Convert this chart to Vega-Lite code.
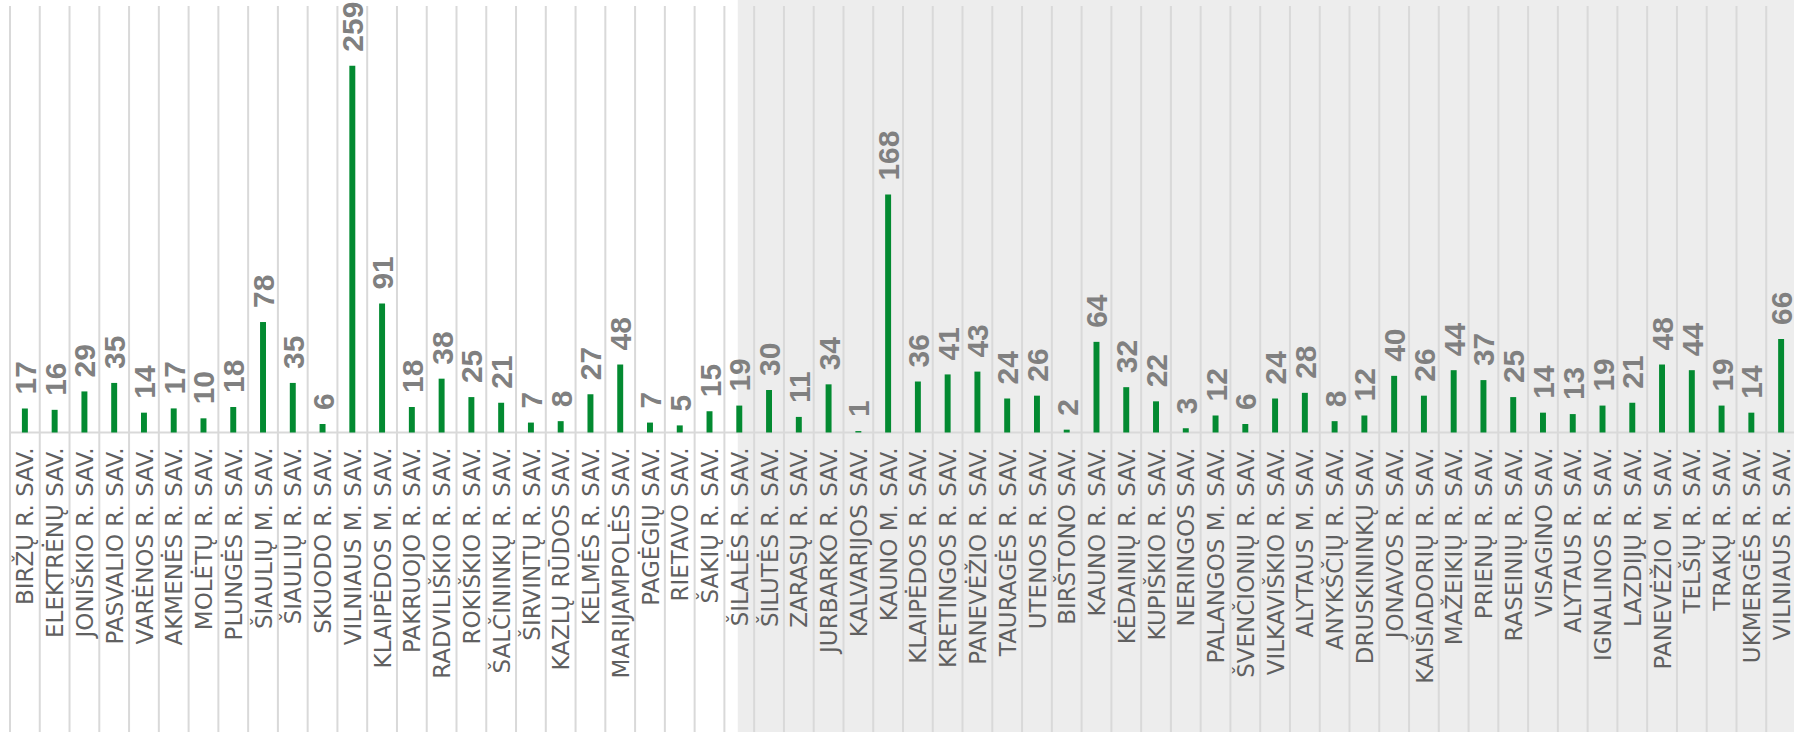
{
  "$schema": "https://vega.github.io/schema/vega-lite/v6.json",
  "width": 1786,
  "height": 732,
  "padding": {"left": 10, "right": 0, "top": 0, "bottom": 0},
  "autosize": {"type": "none"},
  "background": "#ffffff",
  "config": {"view": {"stroke": null}},
  "data": {"values": [
    {"sav": "BIRŽŲ R. SAV.", "v": 17},
    {"sav": "ELEKTRĖNŲ SAV.", "v": 16},
    {"sav": "JONIŠKIO R. SAV.", "v": 29},
    {"sav": "PASVALIO R. SAV.", "v": 35},
    {"sav": "VARĖNOS R. SAV.", "v": 14},
    {"sav": "AKMENĖS R. SAV.", "v": 17},
    {"sav": "MOLĖTŲ R. SAV.", "v": 10},
    {"sav": "PLUNGĖS R. SAV.", "v": 18},
    {"sav": "ŠIAULIŲ M. SAV.", "v": 78},
    {"sav": "ŠIAULIŲ R. SAV.", "v": 35},
    {"sav": "SKUODO R. SAV.", "v": 6},
    {"sav": "VILNIAUS M. SAV.", "v": 259},
    {"sav": "KLAIPĖDOS M. SAV.", "v": 91},
    {"sav": "PAKRUOJO R. SAV.", "v": 18},
    {"sav": "RADVILIŠKIO R. SAV.", "v": 38},
    {"sav": "ROKIŠKIO R. SAV.", "v": 25},
    {"sav": "ŠALČININKŲ R. SAV.", "v": 21},
    {"sav": "ŠIRVINTŲ R. SAV.", "v": 7},
    {"sav": "KAZLŲ RŪDOS SAV.", "v": 8},
    {"sav": "KELMĖS R. SAV.", "v": 27},
    {"sav": "MARIJAMPOLĖS SAV.", "v": 48},
    {"sav": "PAGĖGIŲ SAV.", "v": 7},
    {"sav": "RIETAVO SAV.", "v": 5},
    {"sav": "ŠAKIŲ R. SAV.", "v": 15},
    {"sav": "ŠILALĖS R. SAV.", "v": 19},
    {"sav": "ŠILUTĖS R. SAV.", "v": 30},
    {"sav": "ZARASŲ R. SAV.", "v": 11},
    {"sav": "JURBARKO R. SAV.", "v": 34},
    {"sav": "KALVARIJOS SAV.", "v": 1},
    {"sav": "KAUNO M. SAV.", "v": 168},
    {"sav": "KLAIPĖDOS R. SAV.", "v": 36},
    {"sav": "KRETINGOS R. SAV.", "v": 41},
    {"sav": "PANEVĖŽIO R. SAV.", "v": 43},
    {"sav": "TAURAGĖS R. SAV.", "v": 24},
    {"sav": "UTENOS R. SAV.", "v": 26},
    {"sav": "BIRŠTONO SAV.", "v": 2},
    {"sav": "KAUNO R. SAV.", "v": 64},
    {"sav": "KĖDAINIŲ R. SAV.", "v": 32},
    {"sav": "KUPIŠKIO R. SAV.", "v": 22},
    {"sav": "NERINGOS SAV.", "v": 3},
    {"sav": "PALANGOS M. SAV.", "v": 12},
    {"sav": "ŠVENČIONIŲ R. SAV.", "v": 6},
    {"sav": "VILKAVIŠKIO R. SAV.", "v": 24},
    {"sav": "ALYTAUS M. SAV.", "v": 28},
    {"sav": "ANYKŠČIŲ R. SAV.", "v": 8},
    {"sav": "DRUSKININKŲ SAV.", "v": 12},
    {"sav": "JONAVOS R. SAV.", "v": 40},
    {"sav": "KAIŠIADORIŲ R. SAV.", "v": 26},
    {"sav": "MAŽEIKIŲ R. SAV.", "v": 44},
    {"sav": "PRIENŲ R. SAV.", "v": 37},
    {"sav": "RASEINIŲ R. SAV.", "v": 25},
    {"sav": "VISAGINO SAV.", "v": 14},
    {"sav": "ALYTAUS R. SAV.", "v": 13},
    {"sav": "IGNALINOS R. SAV.", "v": 19},
    {"sav": "LAZDIJŲ R. SAV.", "v": 21},
    {"sav": "PANEVĖŽIO M. SAV.", "v": 48},
    {"sav": "TELŠIŲ R. SAV.", "v": 44},
    {"sav": "TRAKŲ R. SAV.", "v": 19},
    {"sav": "UKMERGĖS R. SAV.", "v": 14},
    {"sav": "VILNIAUS R. SAV.", "v": 66}
  ]},
  "encoding": {
    "x": {"field": "sav", "type": "nominal", "axis": null,
      "scale": {"paddingInner": 0, "paddingOuter": 0, "domain": ["BIRŽŲ R. SAV.","ELEKTRĖNŲ SAV.","JONIŠKIO R. SAV.","PASVALIO R. SAV.","VARĖNOS R. SAV.","AKMENĖS R. SAV.","MOLĖTŲ R. SAV.","PLUNGĖS R. SAV.","ŠIAULIŲ M. SAV.","ŠIAULIŲ R. SAV.","SKUODO R. SAV.","VILNIAUS M. SAV.","KLAIPĖDOS M. SAV.","PAKRUOJO R. SAV.","RADVILIŠKIO R. SAV.","ROKIŠKIO R. SAV.","ŠALČININKŲ R. SAV.","ŠIRVINTŲ R. SAV.","KAZLŲ RŪDOS SAV.","KELMĖS R. SAV.","MARIJAMPOLĖS SAV.","PAGĖGIŲ SAV.","RIETAVO SAV.","ŠAKIŲ R. SAV.","ŠILALĖS R. SAV.","ŠILUTĖS R. SAV.","ZARASŲ R. SAV.","JURBARKO R. SAV.","KALVARIJOS SAV.","KAUNO M. SAV.","KLAIPĖDOS R. SAV.","KRETINGOS R. SAV.","PANEVĖŽIO R. SAV.","TAURAGĖS R. SAV.","UTENOS R. SAV.","BIRŠTONO SAV.","KAUNO R. SAV.","KĖDAINIŲ R. SAV.","KUPIŠKIO R. SAV.","NERINGOS SAV.","PALANGOS M. SAV.","ŠVENČIONIŲ R. SAV.","VILKAVIŠKIO R. SAV.","ALYTAUS M. SAV.","ANYKŠČIŲ R. SAV.","DRUSKININKŲ SAV.","JONAVOS R. SAV.","KAIŠIADORIŲ R. SAV.","MAŽEIKIŲ R. SAV.","PRIENŲ R. SAV.","RASEINIŲ R. SAV.","VISAGINO SAV.","ALYTAUS R. SAV.","IGNALINOS R. SAV.","LAZDIJŲ R. SAV.","PANEVĖŽIO M. SAV.","TELŠIŲ R. SAV.","TRAKŲ R. SAV.","UKMERGĖS R. SAV.","VILNIAUS R. SAV."]}}
  },
  "layer": [
    {
      "data": {"values": [{}]},
      "mark": {"type": "rect", "color": "#ededed"},
      "encoding": {
        "x": {"datum": "ŠILALĖS R. SAV.", "type": "nominal", "bandPosition": 0.45, "axis": null,
          "scale": {"paddingInner": 0, "paddingOuter": 0, "domain": ["BIRŽŲ R. SAV.","ELEKTRĖNŲ SAV.","JONIŠKIO R. SAV.","PASVALIO R. SAV.","VARĖNOS R. SAV.","AKMENĖS R. SAV.","MOLĖTŲ R. SAV.","PLUNGĖS R. SAV.","ŠIAULIŲ M. SAV.","ŠIAULIŲ R. SAV.","SKUODO R. SAV.","VILNIAUS M. SAV.","KLAIPĖDOS M. SAV.","PAKRUOJO R. SAV.","RADVILIŠKIO R. SAV.","ROKIŠKIO R. SAV.","ŠALČININKŲ R. SAV.","ŠIRVINTŲ R. SAV.","KAZLŲ RŪDOS SAV.","KELMĖS R. SAV.","MARIJAMPOLĖS SAV.","PAGĖGIŲ SAV.","RIETAVO SAV.","ŠAKIŲ R. SAV.","ŠILALĖS R. SAV.","ŠILUTĖS R. SAV.","ZARASŲ R. SAV.","JURBARKO R. SAV.","KALVARIJOS SAV.","KAUNO M. SAV.","KLAIPĖDOS R. SAV.","KRETINGOS R. SAV.","PANEVĖŽIO R. SAV.","TAURAGĖS R. SAV.","UTENOS R. SAV.","BIRŠTONO SAV.","KAUNO R. SAV.","KĖDAINIŲ R. SAV.","KUPIŠKIO R. SAV.","NERINGOS SAV.","PALANGOS M. SAV.","ŠVENČIONIŲ R. SAV.","VILKAVIŠKIO R. SAV.","ALYTAUS M. SAV.","ANYKŠČIŲ R. SAV.","DRUSKININKŲ SAV.","JONAVOS R. SAV.","KAIŠIADORIŲ R. SAV.","MAŽEIKIŲ R. SAV.","PRIENŲ R. SAV.","RASEINIŲ R. SAV.","VISAGINO SAV.","ALYTAUS R. SAV.","IGNALINOS R. SAV.","LAZDIJŲ R. SAV.","PANEVĖŽIO M. SAV.","TELŠIŲ R. SAV.","TRAKŲ R. SAV.","UKMERGĖS R. SAV.","VILNIAUS R. SAV."]}},
        "x2": {"value": "width"},
        "y": {"datum": 305.4, "type": "quantitative", "axis": null, "scale": {"domain": [-211.5, 305.4], "nice": false, "zero": false}},
        "y2": {"datum": -211.5}
      }
    },
    {
      "mark": {"type": "rule", "color": "#d9d9d9", "strokeWidth": 2},
      "encoding": {
        "x": {"field": "sav", "type": "nominal", "bandPosition": 0, "axis": null,
          "scale": {"paddingInner": 0, "paddingOuter": 0, "domain": ["BIRŽŲ R. SAV.","ELEKTRĖNŲ SAV.","JONIŠKIO R. SAV.","PASVALIO R. SAV.","VARĖNOS R. SAV.","AKMENĖS R. SAV.","MOLĖTŲ R. SAV.","PLUNGĖS R. SAV.","ŠIAULIŲ M. SAV.","ŠIAULIŲ R. SAV.","SKUODO R. SAV.","VILNIAUS M. SAV.","KLAIPĖDOS M. SAV.","PAKRUOJO R. SAV.","RADVILIŠKIO R. SAV.","ROKIŠKIO R. SAV.","ŠALČININKŲ R. SAV.","ŠIRVINTŲ R. SAV.","KAZLŲ RŪDOS SAV.","KELMĖS R. SAV.","MARIJAMPOLĖS SAV.","PAGĖGIŲ SAV.","RIETAVO SAV.","ŠAKIŲ R. SAV.","ŠILALĖS R. SAV.","ŠILUTĖS R. SAV.","ZARASŲ R. SAV.","JURBARKO R. SAV.","KALVARIJOS SAV.","KAUNO M. SAV.","KLAIPĖDOS R. SAV.","KRETINGOS R. SAV.","PANEVĖŽIO R. SAV.","TAURAGĖS R. SAV.","UTENOS R. SAV.","BIRŠTONO SAV.","KAUNO R. SAV.","KĖDAINIŲ R. SAV.","KUPIŠKIO R. SAV.","NERINGOS SAV.","PALANGOS M. SAV.","ŠVENČIONIŲ R. SAV.","VILKAVIŠKIO R. SAV.","ALYTAUS M. SAV.","ANYKŠČIŲ R. SAV.","DRUSKININKŲ SAV.","JONAVOS R. SAV.","KAIŠIADORIŲ R. SAV.","MAŽEIKIŲ R. SAV.","PRIENŲ R. SAV.","RASEINIŲ R. SAV.","VISAGINO SAV.","ALYTAUS R. SAV.","IGNALINOS R. SAV.","LAZDIJŲ R. SAV.","PANEVĖŽIO M. SAV.","TELŠIŲ R. SAV.","TRAKŲ R. SAV.","UKMERGĖS R. SAV.","VILNIAUS R. SAV."]}},
        "y": {"datum": 301.2, "type": "quantitative", "axis": null},
        "y2": {"datum": -211.5}
      }
    },
    {
      "data": {"values": [{}]},
      "mark": {"type": "rule", "color": "#d9d9d9", "strokeWidth": 2},
      "encoding": {
        "x": null,
        "y": {"datum": 0, "type": "quantitative", "axis": null}
      }
    },
    {
      "mark": {"type": "bar", "color": "#038a31", "width": {"band": 0.2}},
      "encoding": {
        "y": {"field": "v", "type": "quantitative", "axis": null}
      }
    },
    {
      "mark": {"type": "text", "angle": 270, "align": "left", "baseline": "middle", "dx": 14, "dy": 2, "font": "Liberation Sans", "fontWeight": "bold", "fontSize": 30, "color": "#808080"},
      "encoding": {
        "y": {"field": "v", "type": "quantitative", "axis": null},
        "text": {"field": "v", "type": "quantitative"}
      }
    },
    {
      "mark": {"type": "text", "angle": 270, "align": "right", "baseline": "middle", "dx": -15, "dy": 1.6, "font": "DejaVu Sans", "fontSize": 23, "color": "#606060"},
      "encoding": {
        "y": {"datum": 0, "type": "quantitative", "axis": null},
        "text": {"field": "sav", "type": "nominal"}
      }
    }
  ]
}
